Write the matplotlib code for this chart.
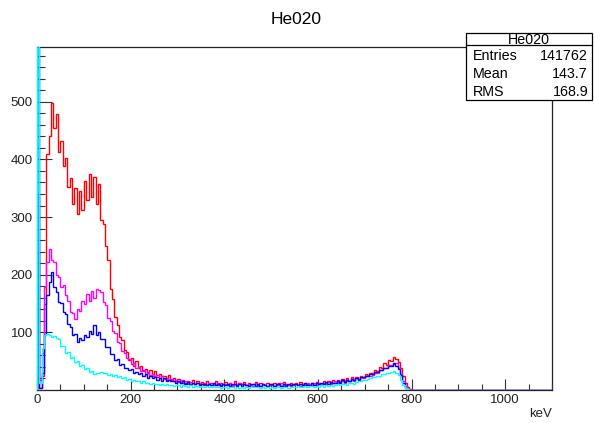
import numpy as np
import matplotlib
matplotlib.use("Agg")
import matplotlib.pyplot as plt
from matplotlib.ticker import MultipleLocator, FixedLocator

plt.rcParams['font.family'] = ['Liberation Sans', 'DejaVu Sans']

# bin edges: 5 keV bins from 0 to 800 keV, then one empty bin up to 1100 keV
bin_width_kev = 5
x_max_kev = 1100

red_counts = [
    240, 4, 25, 150, 410, 440, 498, 455, 478, 412,
    432, 388, 402, 352, 368, 322, 350, 305, 345, 312,
    362, 330, 375, 335, 370, 322, 358, 295, 288, 250,
    225, 176, 158, 126, 112, 92, 86, 70, 66, 52,
    55, 42, 50, 38, 42, 33, 37, 30, 34, 25,
    33, 23, 28, 25, 24, 18, 26, 17, 21, 16,
    19, 13, 18, 12, 16, 11, 17, 10, 15, 11,
    14, 9, 15, 10, 13, 8, 16, 9, 12, 10,
    14, 8, 13, 9, 15, 8, 12, 10, 14, 8,
    13, 9, 11, 14, 7, 12, 10, 8, 13, 9,
    8, 13, 9, 12, 7, 14, 9, 8, 13, 9,
    12, 8, 14, 9, 13, 10, 8, 13, 9, 14,
    12, 10, 15, 11, 16, 12, 17, 13, 18, 14,
    19, 15, 20, 16, 22, 18, 23, 19, 25, 22,
    27, 26, 30, 29, 35, 33, 40, 38, 46, 44,
    52, 50, 58, 54, 49, 38, 25, 12, 5, 1,
    0,
]

magenta_counts = [
    335, 18, 65, 178, 222, 245, 226, 222, 200, 196,
    178, 182, 164, 154, 136, 134, 124, 140, 137, 154,
    150, 166, 154, 172, 160, 176, 174, 170, 152, 148,
    125, 120, 102, 99, 84, 82, 67, 65, 55, 54,
    45, 46, 38, 40, 33, 35, 28, 32, 26, 27,
    25, 26, 20, 24, 19, 21, 18, 19, 15, 17,
    14, 17, 13, 16, 11, 14, 13, 10, 13, 12,
    10, 13, 9, 12, 8, 13, 9, 12, 8, 11,
    11, 8, 12, 7, 11, 8, 12, 7, 11, 8,
    10, 9, 7, 12, 8, 7, 11, 9, 7, 11,
    10, 7, 11, 8, 12, 7, 10, 9, 7, 10,
    11, 8, 7, 11, 8, 12, 9, 8, 12, 9,
    12, 9, 13, 10, 14, 11, 12, 15, 12, 16,
    16, 13, 18, 15, 19, 16, 21, 18, 23, 20,
    24, 24, 25, 26, 30, 30, 34, 35, 39, 39,
    43, 44, 45, 46, 39, 28, 16, 7, 2, 0,
    0,
]

blue_counts = [
    720, 3, 30, 95, 165, 188, 204, 178, 170, 152,
    151, 136, 132, 114, 110, 96, 98, 84, 90, 86,
    96, 92, 103, 98, 112, 96, 100, 88, 89, 74,
    74, 62, 63, 52, 54, 44, 45, 38, 39, 34,
    36, 30, 32, 27, 30, 24, 27, 21, 25, 20,
    23, 18, 21, 16, 20, 15, 18, 15, 16, 13,
    16, 12, 15, 11, 14, 11, 12, 10, 12, 9,
    11, 10, 8, 11, 8, 12, 8, 11, 7, 11,
    8, 11, 7, 10, 11, 7, 10, 7, 11, 8,
    7, 10, 11, 7, 10, 7, 11, 8, 7, 10,
    10, 7, 10, 11, 7, 10, 7, 11, 8, 10,
    11, 8, 11, 8, 12, 9, 8, 12, 9, 12,
    10, 13, 10, 14, 11, 14, 13, 12, 16, 13,
    17, 14, 18, 15, 19, 18, 21, 18, 23, 22,
    25, 24, 28, 27, 31, 31, 35, 35, 39, 39,
    42, 42, 46, 41, 36, 26, 13, 4, 1, 0,
    0,
]

cyan_counts = [
    720, 12, 72, 95, 98, 96, 92, 94, 90, 88,
    76, 76, 64, 66, 55, 58, 48, 50, 42, 43,
    36, 38, 32, 33, 28, 30, 29, 31, 29, 30,
    26, 28, 25, 26, 23, 24, 21, 22, 18, 19,
    16, 17, 15, 16, 13, 15, 12, 13, 11, 12,
    10, 11, 9, 10, 9, 10, 8, 9, 7, 9,
    8, 6, 8, 7, 6, 8, 5, 7, 7, 5,
    7, 5, 7, 6, 5, 7, 5, 6, 4, 6,
    6, 4, 6, 6, 4, 6, 4, 6, 4, 6,
    4, 6, 5, 6, 6, 4, 6, 4, 6, 4,
    6, 4, 6, 6, 4, 6, 6, 4, 6, 6,
    5, 7, 5, 6, 7, 5, 7, 7, 5, 7,
    6, 8, 6, 8, 7, 9, 7, 9, 10, 8,
    10, 11, 9, 12, 13, 11, 14, 15, 15, 17,
    17, 19, 20, 22, 22, 25, 25, 28, 28, 30,
    30, 32, 33, 30, 26, 18, 9, 3, 1, 0,
    0,
]

x_tick_labels = ["0", "200", "400", "600", "800", "1000"]
y_tick_labels = ["100", "200", "300", "400", "500"]

stats_title = "He020"
stats_rows = [("Entries", "141762"), ("Mean", "143.7"), ("RMS", "168.9")]

n_fine = len(red_counts) - 1
edges = np.concatenate([np.arange(n_fine + 1) * bin_width_kev, [x_max_kev]])

W, H = 594, 423
fig = plt.figure(figsize=(W / 100, H / 100), dpi=100)
ax = fig.add_axes([37 / W, 1 - 390 / H, (552 - 37) / W, (390 - 47) / H])

series = [
    (red_counts, "#ff0000"),
    (magenta_counts, "#ff00ff"),
    (blue_counts, "#0000ff"),
    (cyan_counts, "#00ffff"),
]
for vals, col in series:
    ax.stairs(vals, edges, color=col, lw=1.0, baseline=0, zorder=2)

ax.set_xlim(0, x_max_kev)
ax.set_ylim(0, 595)

ax.xaxis.set_major_locator(FixedLocator([int(t) for t in x_tick_labels]))
ax.set_xticklabels(x_tick_labels)
ax.xaxis.set_minor_locator(MultipleLocator(50))
ax.yaxis.set_major_locator(FixedLocator([int(t) for t in y_tick_labels]))
ax.set_yticklabels(y_tick_labels)
ax.yaxis.set_minor_locator(MultipleLocator(20))

ax.tick_params(axis='both', which='both', direction='in', color='#333333',
               labelsize=9.5, labelcolor='#222222')
ax.tick_params(axis='x', which='major', length=8, width=0.8, pad=3)
ax.tick_params(axis='x', which='minor', length=4.3, width=0.8)
ax.tick_params(axis='y', which='major', length=10.5, width=0.8, pad=3)
ax.tick_params(axis='y', which='minor', length=5.5, width=0.8)
for s in ax.spines.values():
    s.set_linewidth(0.9)
    s.set_color('#222222')
    s.set_zorder(1)

fig.text(296 / W, 1 - 20 / H, "He020", ha='center', va='center', fontsize=12.5)
fig.text(552 / W, 1 - 414 / H, "keV", ha='right', va='center', fontsize=9.5,
         color='#222222')

# stats box
bx0, by0, bx1, by1 = 466, 33, 592, 100
box = plt.Rectangle((bx0 / W, 1 - by1 / H), (bx1 - bx0) / W, (by1 - by0) / H,
                    transform=fig.transFigure, facecolor='white',
                    edgecolor='black', lw=0.9, zorder=5)
fig.add_artist(box)
fig.add_artist(plt.Line2D([bx0 / W, bx1 / W], [1 - 45 / H, 1 - 45 / H],
                          transform=fig.transFigure, color='black', lw=0.9, zorder=6))
fig.text((bx0 + bx1) / 2 / W, 1 - 39.5 / H, stats_title, ha='center', va='center',
         fontsize=10.3, zorder=7)
for k, (lab, val) in enumerate(stats_rows):
    yy = 1 - (56.5 + 17.5 * k) / H
    fig.text(473 / W, yy, lab, ha='left', va='center', fontsize=10.3, zorder=7)
    fig.text(588 / W, yy, val, ha='right', va='center', fontsize=10.3, zorder=7)

fig.savefig("out.png", dpi=100)
